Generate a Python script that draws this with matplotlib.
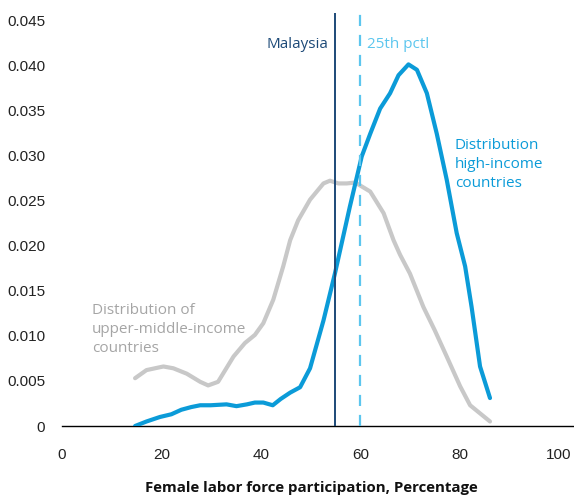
import matplotlib
matplotlib.use("Agg")
import matplotlib.pyplot as plt

# high-income countries density
hi_x = [14.7, 17, 19.7, 22, 24, 26, 27.8, 29.9, 33.1, 35.1, 37.2, 38.8, 40.5, 42.4, 44, 45.9, 47.9,
        49.9, 52.6, 54.9, 57.9, 60.3, 62, 64, 66, 67.7, 69.7, 71.4, 73.4, 75.4, 77.4, 79.4, 81.1,
        82.4, 84.1, 86.1]
hi_y = [0.0, 0.0005, 0.001, 0.0013, 0.0018, 0.0021, 0.0023, 0.0023, 0.0024, 0.0022, 0.0024, 0.0026,
        0.0026, 0.0023, 0.003, 0.0037, 0.0043, 0.0064, 0.0117, 0.0169, 0.0243, 0.0299, 0.0324,
        0.0352, 0.0369, 0.0389, 0.0401, 0.0395, 0.0369, 0.0324, 0.0273, 0.0214, 0.0177, 0.0132,
        0.0066, 0.0031]

# upper-middle-income countries density
um_x = [14.7, 17, 20.4, 22.4, 25.1, 27.8, 29.4, 31.4, 34.5, 36.8, 38.8, 40.5, 42.5, 44.5, 45.9,
        47.5, 49.9, 52.6, 53.9, 55.6, 57.3, 59, 62, 64.7, 66.7, 68, 70, 72.7, 75, 77.4, 80.1,
        82.1, 86.1]
um_y = [0.0053, 0.0062, 0.0066, 0.0064, 0.0058, 0.0049, 0.0045, 0.0049, 0.0077, 0.0092, 0.0101,
        0.0114, 0.014, 0.0177, 0.0206, 0.0228, 0.0251, 0.0269, 0.0272, 0.0269, 0.0269, 0.027,
        0.026, 0.0236, 0.0206, 0.0190, 0.0169, 0.0132, 0.0106, 0.0077, 0.0044, 0.0023, 0.0005]

malaysia = 55
pctl25 = 60

x_ticks = [0, 20, 40, 60, 80, 100]
y_ticks = [0, 0.005, 0.010, 0.015, 0.020, 0.025, 0.030, 0.035, 0.040, 0.045]
y_labels = ["0", "0.005", "0.010", "0.015", "0.020", "0.025", "0.030", "0.035", "0.040", "0.045"]

navy = "#1d4a78"
blue = "#0b9bd8"
light = "#5cc6ee"
gray = "#c8c8c8"
gray_txt = "#a5a5a5"

plt.rcParams['font.family'] = ['Open Sans', 'DejaVu Sans']
tick_font = 'Liberation Sans'

fig = plt.figure(figsize=(5.74, 4.98), dpi=100)
ax = fig.add_axes([62 / 574, 72 / 498, 512 / 574, 413 / 498])

ax.plot(um_x, um_y, color=gray, lw=3, solid_capstyle='round', solid_joinstyle='round', zorder=2)
ax.plot(hi_x, hi_y, color=blue, lw=3, solid_capstyle='round', solid_joinstyle='round', zorder=3)
ax.axvline(malaysia, color=navy, lw=1.4, zorder=4)
ax.axvline(pctl25, color=light, lw=1.6, dashes=(5, 4), zorder=4)

ax.text(malaysia - 1.4, 0.0423, "Malaysia", color=navy, fontsize=11, ha='right', va='center')
ax.text(pctl25 + 1.4, 0.0423, "25th pctl", color=light, fontsize=11, ha='left', va='center')
ax.text(79, 0.0290, "Distribution\nhigh-income\ncountries", color=blue, fontsize=11,
        ha='left', va='center', linespacing=1.38)
ax.text(6, 0.0107, "Distribution of\nupper-middle-income\ncountries", color=gray_txt, fontsize=11,
        ha='left', va='center', linespacing=1.38)

ax.set_xlim(0, 103)
ax.set_ylim(0, 0.0458)
ax.set_xticks(x_ticks)
ax.set_yticks(y_ticks)
ax.set_yticklabels(y_labels)
ax.tick_params(axis='both', length=0, labelsize=11, colors='#222222')
ax.tick_params(axis='x', pad=16)
ax.tick_params(axis='y', pad=12)
for lab in ax.get_xticklabels() + ax.get_yticklabels():
    lab.set_fontfamily(tick_font)
for s in ['top', 'right', 'left']:
    ax.spines[s].set_visible(False)
ax.spines['bottom'].set_color('black')
ax.spines['bottom'].set_linewidth(1.0)

fig.text(311 / 574, 1 - 488 / 498, "Female labor force participation, Percentage",
         ha='center', va='center', fontsize=10.8, fontweight='bold', color='#111111')

fig.savefig("out.png", dpi=100)
